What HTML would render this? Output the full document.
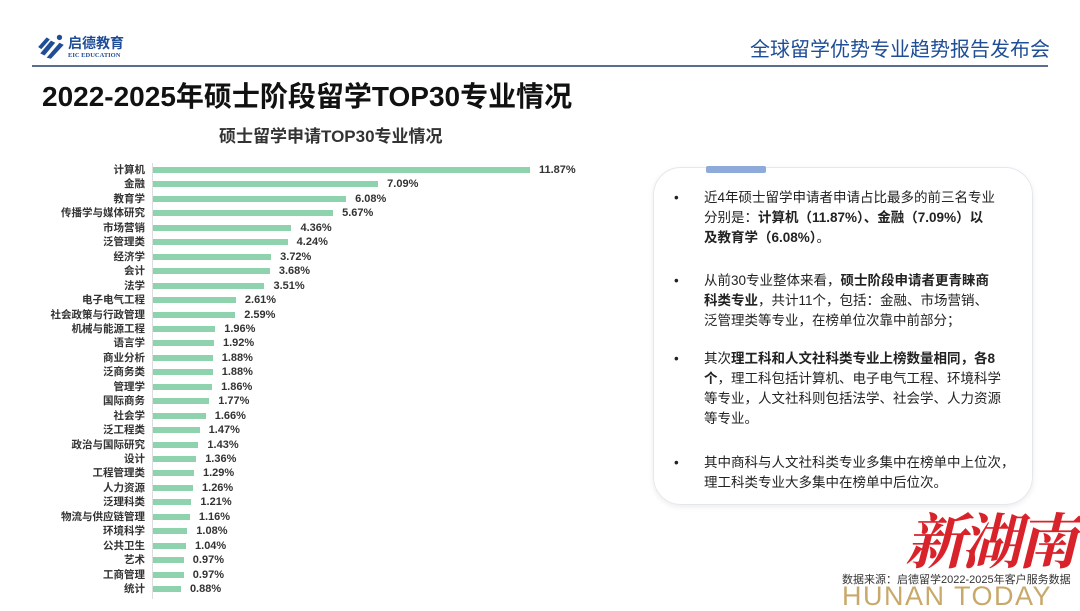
<!DOCTYPE html>
<html><head><meta charset="utf-8">
<style>
*{margin:0;padding:0;box-sizing:border-box}
body{width:1080px;height:607px;background:#fff;position:relative;overflow:hidden;font-family:"Liberation Sans","Noto Sans CJK SC",sans-serif}
.abs{position:absolute}
.lab{position:absolute;right:935px;font-size:10.5px;font-weight:bold;color:#333;line-height:12px;white-space:nowrap}
.bar{position:absolute;left:153px;height:6px;background:#8fd3ae}
.val{position:absolute;font-size:11px;font-weight:bold;color:#333;line-height:12px}
.box p{position:absolute;left:50px;font-size:13.5px;line-height:20px;color:#222;white-space:nowrap}
.box p:before{content:"•";position:absolute;left:-30px;top:0}
.box b{font-weight:bold}
</style></head><body>
<svg class="abs" style="left:36px;top:34px" width="32" height="26" viewBox="0 0 30 24">
<path d="M4 18 L14 6 L18 8 L8 20 Z" fill="#1f4e96"/><path d="M10 22 L22 8 L26 10 L14 23 Z" fill="#1f4e96"/><path d="M2 12 L10 3 L13 5 L5 14 Z" fill="#1f4e96"/><circle cx="22" cy="3" r="2.5" fill="#1f4e96"/>
</svg>
<div class="abs" style="left:68px;top:35px;font-size:14px;font-weight:bold;color:#1f4e96;line-height:16px">启德教育</div>
<div class="abs" style="left:68px;top:52px;font-size:6.5px;font-weight:bold;color:#1f4e96;font-family:'Liberation Serif',serif">EIC EDUCATION</div>
<div class="abs" style="left:750px;top:37px;font-size:20px;color:#1f4e96;line-height:26px">全球留学优势专业趋势报告发布会</div>
<div class="abs" style="left:32px;top:65px;width:1016px;height:2px;background:#5a6f8f"></div>
<div class="abs" style="left:42px;top:79px;font-size:28px;font-weight:bold;color:#111;line-height:36px">2022-2025年硕士阶段留学TOP30专业情况</div>
<div class="abs" style="left:219px;top:126px;font-size:17px;font-weight:bold;color:#333;line-height:22px">硕士留学申请TOP30专业情况</div>
<div class="abs" style="left:152px;top:163px;width:1px;height:436px;background:#ddd"></div>
<div id="chart"></div>
<div class="abs box" style="left:653px;top:167px;width:380px;height:338px;border:1px solid #e4e8ee;border-radius:28px;box-shadow:0 2px 6px rgba(0,0,0,0.08)">
<p style="top:20px">近4年硕士留学申请者申请占比最多的前三名专业<br>分别是：<b>计算机（11.87%）、金融（7.09%）以</b><br><b>及教育学（6.08%）</b>。</p>
<p style="top:103px">从前30专业整体来看，<b>硕士阶段申请者更青睐商</b><br><b>科类专业</b>，共计11个，包括：金融、市场营销、<br>泛管理类等专业，在榜单位次靠中前部分；</p>
<p style="top:181px">其次<b>理工科和人文社科类专业上榜数量相同，各8</b><br><b>个</b>，理工科包括计算机、电子电气工程、环境科学<br>等专业，人文社科则包括法学、社会学、人力资源<br>等专业。</p>
<p style="top:285px">其中商科与人文社科类专业多集中在榜单中上位次，<br>理工科类专业大多集中在榜单中后位次。</p>
</div>
<div class="abs" style="left:706px;top:166px;width:60px;height:7px;background:#8eaadb;border-radius:2px"></div>
<div class="abs" style="left:905px;top:502px;font-size:60px;color:#d9232a;font-family:'Noto Serif CJK SC',serif;font-weight:bold;font-style:italic;line-height:72px;letter-spacing:-4px">新湖南</div>
<div class="abs" style="left:842px;top:573px;font-size:11px;color:#333;line-height:14px">数据来源：启德留学2022-2025年客户服务数据</div>
<div class="abs" style="left:842px;top:582px;font-size:27px;color:#c9a96a;line-height:28px;letter-spacing:1.5px">HUNAN TODAY</div>
<script>
var d=[["计算机",11.87],["金融",7.09],["教育学",6.08],["传播学与媒体研究",5.67],["市场营销",4.36],["泛管理类",4.24],["经济学",3.72],["会计",3.68],["法学",3.51],["电子电气工程",2.61],["社会政策与行政管理",2.59],["机械与能源工程",1.96],["语言学",1.92],["商业分析",1.88],["泛商务类",1.88],["管理学",1.86],["国际商务",1.77],["社会学",1.66],["泛工程类",1.47],["政治与国际研究",1.43],["设计",1.36],["工程管理类",1.29],["人力资源",1.26],["泛理科类",1.21],["物流与供应链管理",1.16],["环境科学",1.08],["公共卫生",1.04],["艺术",0.97],["工商管理",0.97],["统计",0.88]];
var h="";
for(var i=0;i<d.length;i++){var c=170+i*14.45;var w=d[i][1]*31.76;
h+='<div class="lab" style="top:'+(c-6)+'px">'+d[i][0]+'</div>';
h+='<div class="bar" style="top:'+(c-3)+'px;width:'+w+'px"></div>';
h+='<div class="val" style="top:'+(c-6)+'px;left:'+(153+w+9)+'px">'+d[i][1].toFixed(2)+'%</div>';}
document.getElementById("chart").innerHTML=h;
</script>
</body></html>
